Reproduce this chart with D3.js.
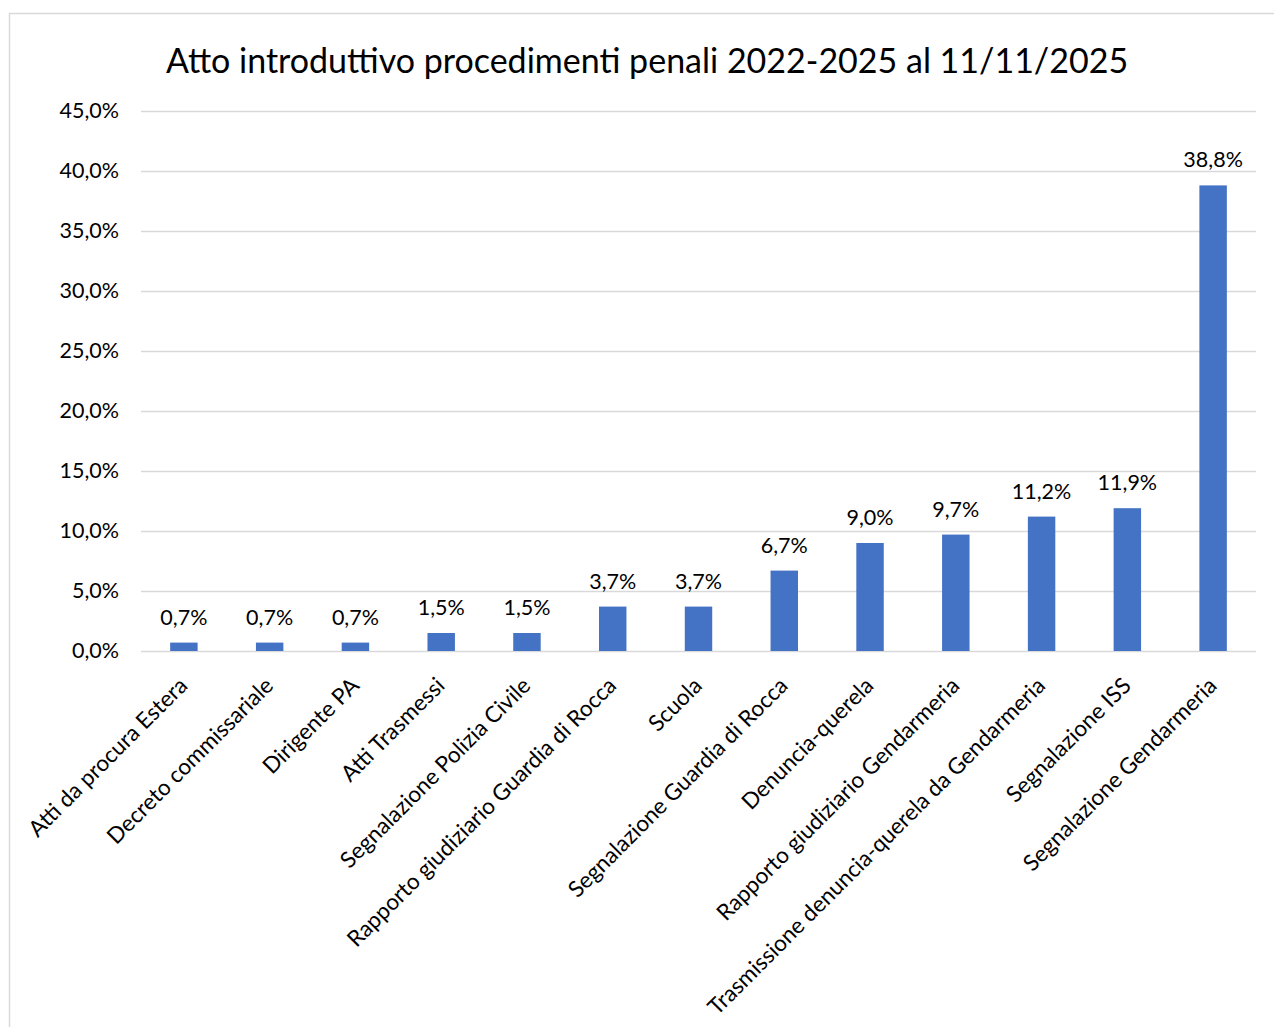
<!DOCTYPE html>
<html><head><meta charset="utf-8">
<script src="https://cdn.jsdelivr.net/npm/d3@7"></script>
<style>body{margin:0;background:#fff}svg{display:block}text{font-family:Lato,sans-serif;fill:#000}</style>
</head><body>
<svg id="c" width="1274" height="1027"></svg>
<script>
const categories = ["Atti da procura Estera","Decreto commissariale","Dirigente PA","Atti Trasmessi","Segnalazione Polizia Civile","Rapporto giudiziario Guardia di Rocca","Scuola","Segnalazione Guardia di Rocca","Denuncia-querela","Rapporto giudiziario Gendarmeria","Trasmissione denuncia-querela da Gendarmeria","Segnalazione ISS","Segnalazione Gendarmeria"];
const values = [0.7,0.7,0.7,1.5,1.5,3.7,3.7,6.7,9.0,9.7,11.2,11.9,38.8];
const yTicks = [0,5,10,15,20,25,30,35,40,45];
const title = "Atto introduttivo procedimenti penali 2022-2025 al 11/11/2025";

const svg = d3.select("#c");
const fmt = v => v.toFixed(1).replace(".", ",") + "%";
svg.append("rect").attr("x",9.5).attr("y",13.5).attr("width",1300).attr("height",1100)
  .attr("fill","#fff").attr("stroke","#d9d9d9").attr("stroke-width",1.5);

const x = d3.scaleBand().domain(categories).range([141,1256]).paddingInner(0.68).paddingOuter(0.34);
const y = d3.scaleLinear().domain([0,45]).range([651,111]);

svg.append("text").attr("x",647).attr("y",73).attr("text-anchor","middle")
  .style("font-size","34px").text(title);

const ya = svg.append("g").attr("transform","translate(141,0)")
  .call(d3.axisLeft(y).tickValues(yTicks).tickFormat(fmt).tickSize(-1115).tickPadding(22));
ya.select(".domain").remove();
ya.selectAll("line").attr("stroke","#d9d9d9").attr("stroke-width",1.5);
ya.selectAll("text").style("font-size","21.5px").style("font-family","Lato,sans-serif").attr("fill","#000");

svg.append("g").selectAll("rect").data(values).join("rect")
  .attr("x",(d,i)=>x(categories[i])).attr("width",x.bandwidth())
  .attr("y",d=>y(d)).attr("height",d=>y(0)-y(d)).attr("fill","#4472c4");

svg.append("g").selectAll("text").data(values).join("text")
  .attr("x",(d,i)=>x(categories[i])+x.bandwidth()/2).attr("y",d=>y(d)-18)
  .attr("text-anchor","middle").style("font-size","21.5px").text(fmt);

const xa = svg.append("g").attr("transform","translate(0,651)")
  .call(d3.axisBottom(x).tickSize(0).tickPadding(0));
xa.select(".domain").remove();
xa.selectAll("text").attr("text-anchor","end").style("font-size","22.5px")
  .style("font-family","Lato,sans-serif").attr("fill","#000")
  .attr("dy",null).attr("y",0)
  .attr("transform","translate(5,36) rotate(-45)");
</script>
</body></html>
